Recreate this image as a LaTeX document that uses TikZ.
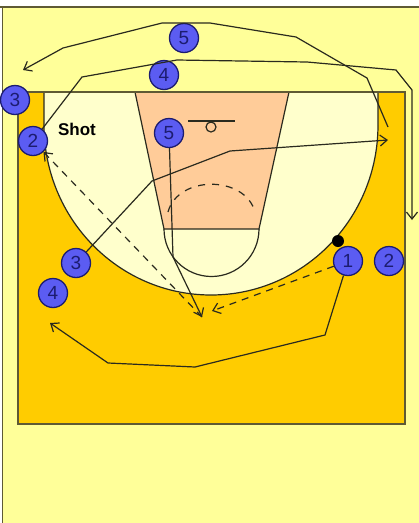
\documentclass[tikz,border=0pt]{standalone}
\usepackage{fontspec}
\setsansfont{Liberation Sans}
\usepackage{xcolor}
\usetikzlibrary{arrows.meta, calc}
\definecolor{pagefill}{HTML}{FFFF99}
\definecolor{courtfill}{HTML}{FFCC00}
\definecolor{arcfill}{HTML}{FFFFCC}
\definecolor{keyfill}{HTML}{FFCC99}
\definecolor{playerfill}{HTML}{5B5CF2}
\definecolor{playerink}{HTML}{1C1C70}
\definecolor{courtline}{HTML}{5F5A34}
\definecolor{moveline}{HTML}{2A2A1E}

\begin{document}
\begin{tikzpicture}[
  x=1pt, y=-1pt,
  every node/.style={font=\sffamily},
  courtedge/.style={draw=courtline, line width=1.6pt},
  player/.style={circle, draw=playerink, line width=1.3pt, fill=playerfill, text=playerink, minimum size=29pt, inner sep=0pt, font=\sffamily\fontsize{19}{19}\selectfont},
  ball/.style={circle, fill=black, minimum size=12pt, inner sep=0pt},
  move/.style={draw=moveline, line width=1.2pt, -{Straight Barb[length=7pt, width=11pt]}},
  pass/.style={move, dashed, dash pattern=on 7pt off 6pt}
]
\useasboundingbox (0,0) rectangle (419,523);

% Page and court
\fill[white] (0,0) rectangle (419,523);
\fill[pagefill] (2,7) rectangle (419,523);
\draw[courtedge] (0,7) -- (419,7);
\draw[courtedge, line width=1pt] (2,7) -- (2,523);
\draw[courtedge, fill=courtfill] (18,92) rectangle (405,424);
\draw[courtedge, line width=1.2pt, draw=moveline, fill=arcfill] (44,92) -- (44,125) arc[start angle=180, end angle=0, x radius=167, y radius=170] -- (378,92) -- cycle;
\draw[courtedge, line width=1.2pt, draw=moveline, fill=keyfill] (135,92) -- (289,92) -- (259,229) -- (164,229) -- cycle;
\draw[line width=1.2pt, draw=moveline] (164,229) arc[start angle=180, end angle=0, radius=47.5];
\draw[line width=1.2pt, draw=moveline, dashed, dash pattern=on 7pt off 7pt] (168,212) .. controls (178,175) and (245,175) .. (255,212);
\draw[line width=1.2pt, draw=moveline] (188,121) -- (235,121);
\draw[line width=1.2pt, draw=moveline] (211,127) circle (5);
\draw[courtedge] (18,92) -- (405,92);

% Players
\node[player] (top5) at (184,38) {5};
\node[player] (top4) at (164,75) {4};
\node[player] (left3) at (15,100) {3};
\node[player] (left2) at (33,141) {2};
\node[player] (key5) at (169,133) {5};
\node[player] (wing3) at (76,263) {3};
\node[player] (wing4) at (53,293) {4};
\node[player] (wing1) at (348,261) {1};
\node[player] (wing2) at (389,261) {2};
\node[ball] (ballspot) at (338,241) {};
\node[font=\sffamily\bfseries\fontsize{17}{17}\selectfont, inner sep=0pt] (shot) at (77,129) {Shot};

% Free ends
\coordinate (top5start) at (388,127);
\coordinate (top5end) at (23,70);
\coordinate (top4end) at (412,220);
\coordinate (wing3end) at (388,140);
\coordinate (key5end) at (202,317);
\coordinate (wing1end) at (50,323);
\coordinate (passend) at (212,311);

% Moves
\draw[move] (top5start) -- (367,78) -- (296,37) -- (210,23) -- (162,23) -- (63,48) -- (top5end);
\draw[move] (left2) -- (82,77) -- (177,60) -- (307,62) -- (396,70) -- (412,90) -- (top4end);
\draw[move] (wing3) -- (152,181) -- (230,151) -- (wing3end);
\draw[move] (key5) -- (173,257) -- (key5end);
\draw[move] (wing1) -- (325,335) -- (195,367) -- (108,363) -- (wing1end);

% Passes
\draw[pass] (wing1) -- (passend);
\draw[pass] (key5end) -- (left2);
\end{tikzpicture}
\end{document}
